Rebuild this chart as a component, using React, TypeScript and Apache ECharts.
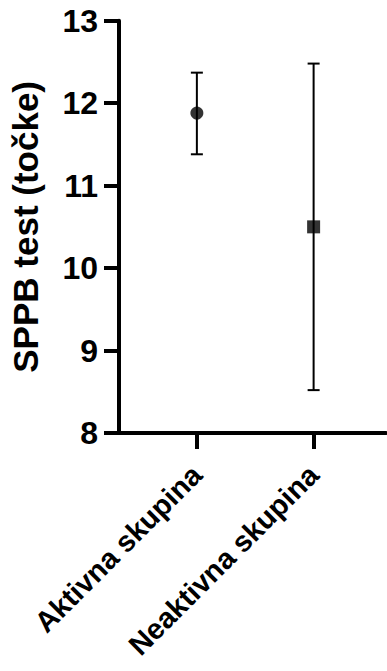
import React, { useEffect, useRef } from "react";
import * as echarts from "echarts";

const categories = ["Aktivna skupina", "Neaktivna skupina"];
const xPositions = [1, 2];
const means = [11.88, 10.5];
const upper = [12.37, 12.48];
const lower = [11.38, 8.52];
const yTicks = [8, 9, 10, 11, 12, 13];
const yTitle = "SPPB test (točke)";

const FONT = "'Liberation Sans', Arial, Helvetica, sans-serif";

export default function App() {
  const ref = useRef<HTMLDivElement>(null);
  useEffect(() => {
    document.body.style.margin = "0";
    const chart = echarts.init(ref.current!, null, { renderer: "svg" });
    chart.setOption({
      animation: false,
      backgroundColor: "#fff",
      grid: { left: 119, right: 1, top: 20.7, bottom: 238, containLabel: false },
      xAxis: {
        type: "value",
        min: 0.333,
        max: 2.62,
        splitLine: { show: false },
        axisLine: { show: true, onZero: false, lineStyle: { color: "#000", width: 4 } },
        axisTick: { show: true, length: 16, customValues: xPositions, lineStyle: { color: "#000", width: 4 } },
        axisLabel: {
          show: true,
          customValues: xPositions,
          rotate: 45,
          margin: 37,
          color: "#000",
          fontSize: 29,
          fontWeight: "bold",
          fontFamily: FONT,
          formatter: (v: number) => categories[Math.round(v) - 1] ?? "",
        },
      },
      yAxis: {
        type: "value",
        min: yTicks[0],
        max: yTicks[yTicks.length - 1],
        interval: 1,
        splitLine: { show: false },
        axisLine: { show: true, lineStyle: { color: "#000", width: 4 } },
        axisTick: { show: true, length: 15, lineStyle: { color: "#000", width: 4 } },
        axisLabel: {
          margin: 21,
          color: "#000",
          fontSize: 32,
          fontWeight: "bold",
          fontFamily: FONT,
        },
        name: yTitle,
        nameLocation: "middle",
        nameGap: 76,
        nameTextStyle: { color: "#000", fontSize: 35, fontWeight: "bold", fontFamily: FONT },
      },
      series: [
        {
          type: "custom",
          data: xPositions.map((x, i) => [x, lower[i], upper[i]]),
          encode: { x: 0, y: [1, 2] },
          renderItem: (params: any, api: any) => {
            const x = api.value(0);
            const lo = api.value(1);
            const hi = api.value(2);
            const p1 = api.coord([x, hi]);
            const p2 = api.coord([x, lo]);
            const hw = 6;
            const st = { stroke: "#000", lineWidth: 2 };
            return {
              type: "group",
              children: [
                { type: "line", shape: { x1: p1[0], y1: p1[1], x2: p2[0], y2: p2[1] }, style: st },
                { type: "line", shape: { x1: p1[0] - hw, y1: p1[1], x2: p1[0] + hw, y2: p1[1] }, style: st },
                { type: "line", shape: { x1: p2[0] - hw, y1: p2[1], x2: p2[0] + hw, y2: p2[1] }, style: st },
              ],
            };
          },
          z: 2,
        },
        {
          type: "scatter",
          data: [[xPositions[0], means[0]]],
          symbol: "circle",
          symbolSize: 13,
          itemStyle: { color: "#000" },
          z: 3,
        },
        {
          type: "scatter",
          data: [[xPositions[1], means[1]]],
          symbol: "rect",
          symbolSize: 13,
          itemStyle: { color: "#000" },
          z: 3,
        },
      ],
    });
    return () => chart.dispose();
  }, []);
  return <div ref={ref} style={{ width: 387, height: 671 }} />;
}
